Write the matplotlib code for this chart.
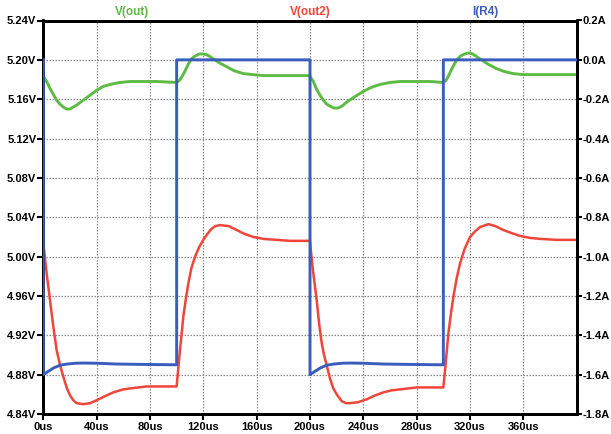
import matplotlib
matplotlib.use("Agg")
import matplotlib.pyplot as plt

# ---------------- data ----------------
t_out = [0, 2.5, 5, 7.5, 10, 12.5, 15, 17.5, 20, 22.5, 25, 30, 35, 40, 45, 50, 57.5, 65, 72.5, 85, 100,
         102, 104, 106, 108.5, 111, 114, 117, 120, 123, 127.5, 132, 137.5, 143, 150, 157, 165, 180, 199,
         200, 202.5, 205, 207.5, 210, 212.5, 215, 218, 221, 224, 227.5, 233, 240, 246, 252.5, 260, 267.5, 280, 290, 300,
         302, 304, 306, 308, 310, 313, 316, 319, 322, 327.5, 333, 340, 346, 352.5, 360, 370, 385, 400]
v_out = [5.183, 5.178, 5.171, 5.165, 5.159, 5.155, 5.152, 5.150, 5.150, 5.152, 5.154, 5.159, 5.164, 5.169, 5.173, 5.175, 5.177, 5.178, 5.178, 5.178, 5.177,
         5.179, 5.183, 5.188, 5.195, 5.201, 5.204, 5.206, 5.206, 5.205, 5.201, 5.197, 5.193, 5.189, 5.186, 5.185, 5.184, 5.184, 5.184,
         5.183, 5.178, 5.170, 5.164, 5.159, 5.155, 5.153, 5.151, 5.151, 5.153, 5.157, 5.162, 5.168, 5.172, 5.175, 5.177, 5.178, 5.178, 5.178, 5.177,
         5.179, 5.184, 5.190, 5.195, 5.200, 5.204, 5.206, 5.207, 5.206, 5.201, 5.196, 5.191, 5.188, 5.186, 5.185, 5.185, 5.185, 5.185]

t_out2 = [0, 2.5, 5, 7.5, 10, 12.5, 15, 17.5, 20, 22.5, 25, 30, 35, 40, 46, 52.5, 60, 65, 77.5, 90, 100,
          101.2, 102.5, 103.8, 105, 107, 108.8, 111, 113.8, 117, 120, 123, 126, 129, 132.5, 139, 145, 151, 157.5, 165, 175, 185, 200,
          200.5, 202.5, 205, 207, 208.8, 210.5, 212.6, 215, 217.5, 220.5, 223.8, 227, 230, 236, 242.6, 249, 255, 261, 267.6, 280, 290, 300,
          301.3, 302.5, 303.8, 305.5, 307.5, 310, 312.5, 316, 320, 324, 327.5, 333.8, 339, 345, 351, 357.6, 365, 372.6, 385, 400]
v_out2 = [5.014, 4.983, 4.956, 4.929, 4.905, 4.890, 4.878, 4.867, 4.859, 4.854, 4.851, 4.850, 4.851, 4.854, 4.858, 4.862, 4.865, 4.866, 4.868, 4.868, 4.868,
          4.886, 4.905, 4.922, 4.939, 4.958, 4.973, 4.988, 5.000, 5.010, 5.017, 5.023, 5.028, 5.031, 5.032, 5.031, 5.027, 5.023, 5.020, 5.018, 5.017, 5.016, 5.016,
          5.008, 4.983, 4.956, 4.930, 4.912, 4.900, 4.889, 4.876, 4.866, 4.859, 4.853, 4.851, 4.851, 4.852, 4.855, 4.859, 4.862, 4.864, 4.865, 4.867, 4.867, 4.867,
          4.885, 4.903, 4.922, 4.940, 4.959, 4.978, 4.993, 5.008, 5.020, 5.026, 5.030, 5.033, 5.031, 5.027, 5.024, 5.021, 5.019, 5.018, 5.017, 5.017]

t_r4 = [0, 0, 4, 8, 12.6, 18, 24, 30, 40, 55, 75, 100, 100, 200, 200, 204, 208, 212.6, 218, 224, 230, 240, 255, 275, 300, 300, 400]
i_r4 = [0.0, -1.600, -1.582, -1.565, -1.552, -1.546, -1.542, -1.541, -1.542, -1.546, -1.548, -1.550, 0.0, 0.0,
        -1.600, -1.582, -1.565, -1.552, -1.546, -1.542, -1.541, -1.542, -1.546, -1.548, -1.550, 0.0, 0.0]

x_ticks = [0, 40, 80, 120, 160, 200, 240, 280, 320, 360]
x_labels = ["0us", "40us", "80us", "120us", "160us", "200us", "240us", "280us", "320us", "360us"]
v_ticks = [4.84, 4.88, 4.92, 4.96, 5.00, 5.04, 5.08, 5.12, 5.16, 5.20, 5.24]
v_labels = ["4.84V", "4.88V", "4.92V", "4.96V", "5.00V", "5.04V", "5.08V", "5.12V", "5.16V", "5.20V", "5.24V"]
a_ticks = [-1.8, -1.6, -1.4, -1.2, -1.0, -0.8, -0.6, -0.4, -0.2, 0.0, 0.2]
a_labels = ["-1.8A", "-1.6A", "-1.4A", "-1.2A", "-1.0A", "-0.8A", "-0.6A", "-0.4A", "-0.2A", "0.0A", "0.2A"]
trace_names = ["V(out)", "V(out2)", "I(R4)"]

# ---------------- style ----------------
GREEN = "#5dbb45"
RED = "#f0453a"
BLUE = "#3a5dbd"
plt.rcParams['font.family'] = ['Liberation Sans', 'DejaVu Sans']

fig = plt.figure(figsize=(6.11, 4.34), dpi=100)
ax = fig.add_axes([43.3 / 611, 20 / 434, 533.4 / 611, 393.5 / 434])
ax2 = ax.twinx()

ax.set_xlim(0, 400)
ax.set_ylim(4.84, 5.24)
ax2.set_ylim(-1.8, 0.2)

ax.set_xticks(x_ticks)
ax.set_xticklabels(x_labels)
ax.set_yticks(v_ticks)
ax.set_yticklabels(v_labels)
ax2.set_yticks(a_ticks)
ax2.set_yticklabels(a_labels)

ax.grid(True, color="#8a8a8a", linestyle=(0, (1.2, 1.2)), linewidth=0.9)
ax.set_axisbelow(True)

for a in (ax, ax2):
    for s in a.spines.values():
        s.set_linewidth(2)
        s.set_color("black")
    for lab in a.get_xticklabels() + a.get_yticklabels():
        lab.set_fontweight("bold")
        lab.set_fontsize(8)
ax.tick_params(axis="both", direction="out", length=4, width=1.5, pad=1)
ax.tick_params(axis="x", pad=2)
ax2.tick_params(axis="y", direction="out", length=3.5, width=1.5, pad=1)

ax.plot(t_out, v_out, color=GREEN, linewidth=2.1, zorder=3)
ax.plot(t_out2, v_out2, color=RED, linewidth=1.8, zorder=3)
ax2.plot(t_r4, i_r4, color=BLUE, linewidth=2.1, zorder=3)

label_x = [132, 310, 485]
for name, col, xp in zip(trace_names, [GREEN, RED, BLUE], label_x):
    fig.text(xp / 611, 1 - 12 / 434, name, color=col, fontsize=8.5, fontweight="bold",
             ha="center", va="center")

fig.savefig("out.png", dpi=100)
